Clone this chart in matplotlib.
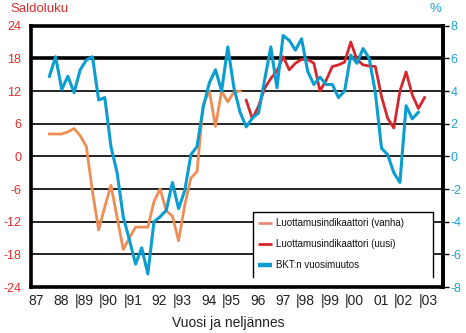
import matplotlib
matplotlib.use('Agg')
import matplotlib.pyplot as plt
from matplotlib import font_manager
from matplotlib.patches import Rectangle
from matplotlib.lines import Line2D
import matplotlib.transforms as mtransforms

names = {f.name for f in font_manager.fontManager.ttflist}
base = 'Liberation Sans' if 'Liberation Sans' in names else 'DejaVu Sans'
narrow = 'Liberation Sans Narrow' if 'Liberation Sans Narrow' in names else base
plt.rcParams['font.family'] = base
plt.rcParams['axes.unicode_minus'] = False

# ---------------- data ----------------
start_year = 1988  # first quarter = 1988 Q1
# BKT:n vuosimuutos, % (right axis)
bkt = [4.9, 6.1, 4.1, 4.9, 3.9, 5.3, 5.9, 6.1, 3.45, 3.6,
       0.6, -1.0, -3.7, -5.1, -6.6, -5.6, -7.2, -4.0, -3.7, -3.3,
       -1.6, -3.2, -2.1, 0.1, 0.6, 3.0, 4.5, 5.3, 4.0, 6.7,
       4.2, 2.7, 1.8, 2.35, 2.65, 4.7, 6.7, 4.2, 7.4, 7.1,
       6.5, 7.2, 5.2, 4.4, 4.85, 4.4, 4.4, 3.6, 4.0, 6.2,
       5.7, 6.6, 6.0, 3.9, 0.5, 0.1, -1.0, -1.6, 3.1, 2.3,
       2.7]
# Luottamusindikaattori (vanha), saldoluku (left axis)
vanha = [4.1, 4.1, 4.1, 4.5, 5.1, 3.8, 1.8, -6.5, -13.5, -9.3,
         -5.3, -11.2, -17.1, -15.0, -13.0, -13.0, -13.0, -8.3, -6.0, -10.0,
         -11.0, -15.5, -9.0, -4.0, -2.8, 9.5, 12.0, 5.5, 12.0, 10.0,
         11.8, 12.0]
# Luottamusindikaattori (uusi), saldoluku (left axis)
uusi_start = 32  # quarter index of first value
uusi = [10.3, 6.9, 9.2, 12.5, 14.3, 15.7, 18.3, 15.9, 17.1, 17.8,
        17.8, 17.1, 12.0, 14.0, 16.5, 16.8, 17.3, 21.0, 17.8, 16.8,
        16.6, 16.5, 11.0, 7.0, 5.2, 12.0, 15.5, 11.3, 8.8, 10.8]

label_years = list(range(1987, 2004))
year_labels = ['87', '88', '|89', '|90', '|91', '92', '|93', '94', '|95',
               '96', '97', '|98', '|99', '|00', '01', '|02', '|03']
left_ticks = [-24, -18, -12, -6, 0, 6, 12, 18, 24]
right_ticks = [-8, -6, -4, -2, 0, 2, 4, 6, 8]
legend_labels = ['Luottamusindikaattori (vanha)',
                 'Luottamusindikaattori (uusi)',
                 'BKT:n vuosimuutos']

c_blue = '#0A9DD0'
c_orange = '#EE8E55'
c_red = '#D7262C'
c_lred = '#E02B2B'
c_tblue = '#1BA1D8'


def qx(i):
    return start_year + i / 4.0


x_bkt = [qx(i) for i in range(len(bkt))]
x_vanha = [qx(i) for i in range(len(vanha))]
x_uusi = [qx(uusi_start + i) for i in range(len(uusi))]

# ---------------- figure ----------------
W, H = 466, 333
fig = plt.figure(figsize=(W / 100, H / 100), dpi=100)
fig.patch.set_facecolor('white')
L, R, T, B = 31, 443, 25.7, 287
ax = fig.add_axes([L / W, 1 - B / H, (R - L) / W, (B - T) / H])
ax2 = ax.twinx()

ax.set_xlim(1987.25, 2004.0)
ax.set_ylim(-24, 24)
ax2.set_ylim(-8, 8)

for v in left_ticks[1:-1]:
    ax.axhline(v, color='black', lw=2.6 if v == 18 else 1.2, zorder=1)

ax.plot(x_vanha, vanha, color=c_orange, lw=2.0, zorder=2)
ax.plot(x_uusi, uusi, color=c_red, lw=2.0, zorder=2)
ax2.plot(x_bkt, bkt, color=c_blue, lw=2.2, zorder=2)

# spines
for s in ax.spines.values():
    s.set_linewidth(2.6)
    s.set_color('black')
for name, s in ax2.spines.items():
    if name == 'right':
        s.set_linewidth(2.6)
        s.set_color('black')
    else:
        s.set_visible(False)

ax.set_yticks(left_ticks)
ax.set_yticklabels([str(v) for v in left_ticks])
ax.tick_params(axis='y', length=0, pad=7, labelsize=9, labelcolor=c_lred)
ax.set_xticks([])

ax2.set_yticks(right_ticks)
ax2.set_yticklabels([str(v) for v in right_ticks])
ax2.tick_params(axis='y', length=4, width=1, color='black', pad=1.5,
                labelsize=9, labelcolor=c_tblue, direction='out')

# x labels
trans = mtransforms.blended_transform_factory(ax.transData, ax.transAxes)
for yr, lab in zip(label_years, year_labels):
    ax.text(yr + 0.54 + 0.25, -0.026, lab, transform=trans, ha='right',
            va='top', fontsize=10, family=narrow, color='#222222')

fig.text(228 / W, 1 - 323 / H, 'Vuosi ja neljännes', ha='center',
         va='center', fontsize=10, family=narrow, color='#222222')
fig.text(10 / W, 1 - 9 / H, 'Saldoluku', ha='left', va='center',
         fontsize=9.5, color=c_lred)
fig.text(435 / W, 1 - 9 / H, '%', ha='center', va='center',
         fontsize=9.5, color=c_tblue)

# legend box (white, open at bottom)
lx0, lx1, ly0, ly1 = 0.538, 0.9765, 0.0394, 0.288
ax.add_patch(Rectangle((lx0, ly0), lx1 - lx0, ly1 - ly0, transform=ax.transAxes,
                       facecolor='white', edgecolor='none', zorder=3))
ax.add_line(Line2D([lx0, lx0, lx1, lx1], [ly0, ly1, ly1, ly0],
                   transform=ax.transAxes, color='black', lw=1.0, zorder=4))
rows = [0.246, 0.1646, 0.083]
hcols = ['#EC8A78', c_red, c_blue]
hlw = [2.0, 2.0, 3.2]
for yy, lab, col, lw in zip(rows, legend_labels, hcols, hlw):
    ax.add_line(Line2D([0.551, 0.584], [yy, yy], transform=ax.transAxes,
                       color=col, lw=lw, zorder=5, solid_capstyle='butt'))
    ax.text(0.594, yy, lab, transform=ax.transAxes, ha='left', va='center',
            fontsize=7, color='#111111', zorder=5)

fig.savefig('out.png', dpi=100, facecolor='white')
